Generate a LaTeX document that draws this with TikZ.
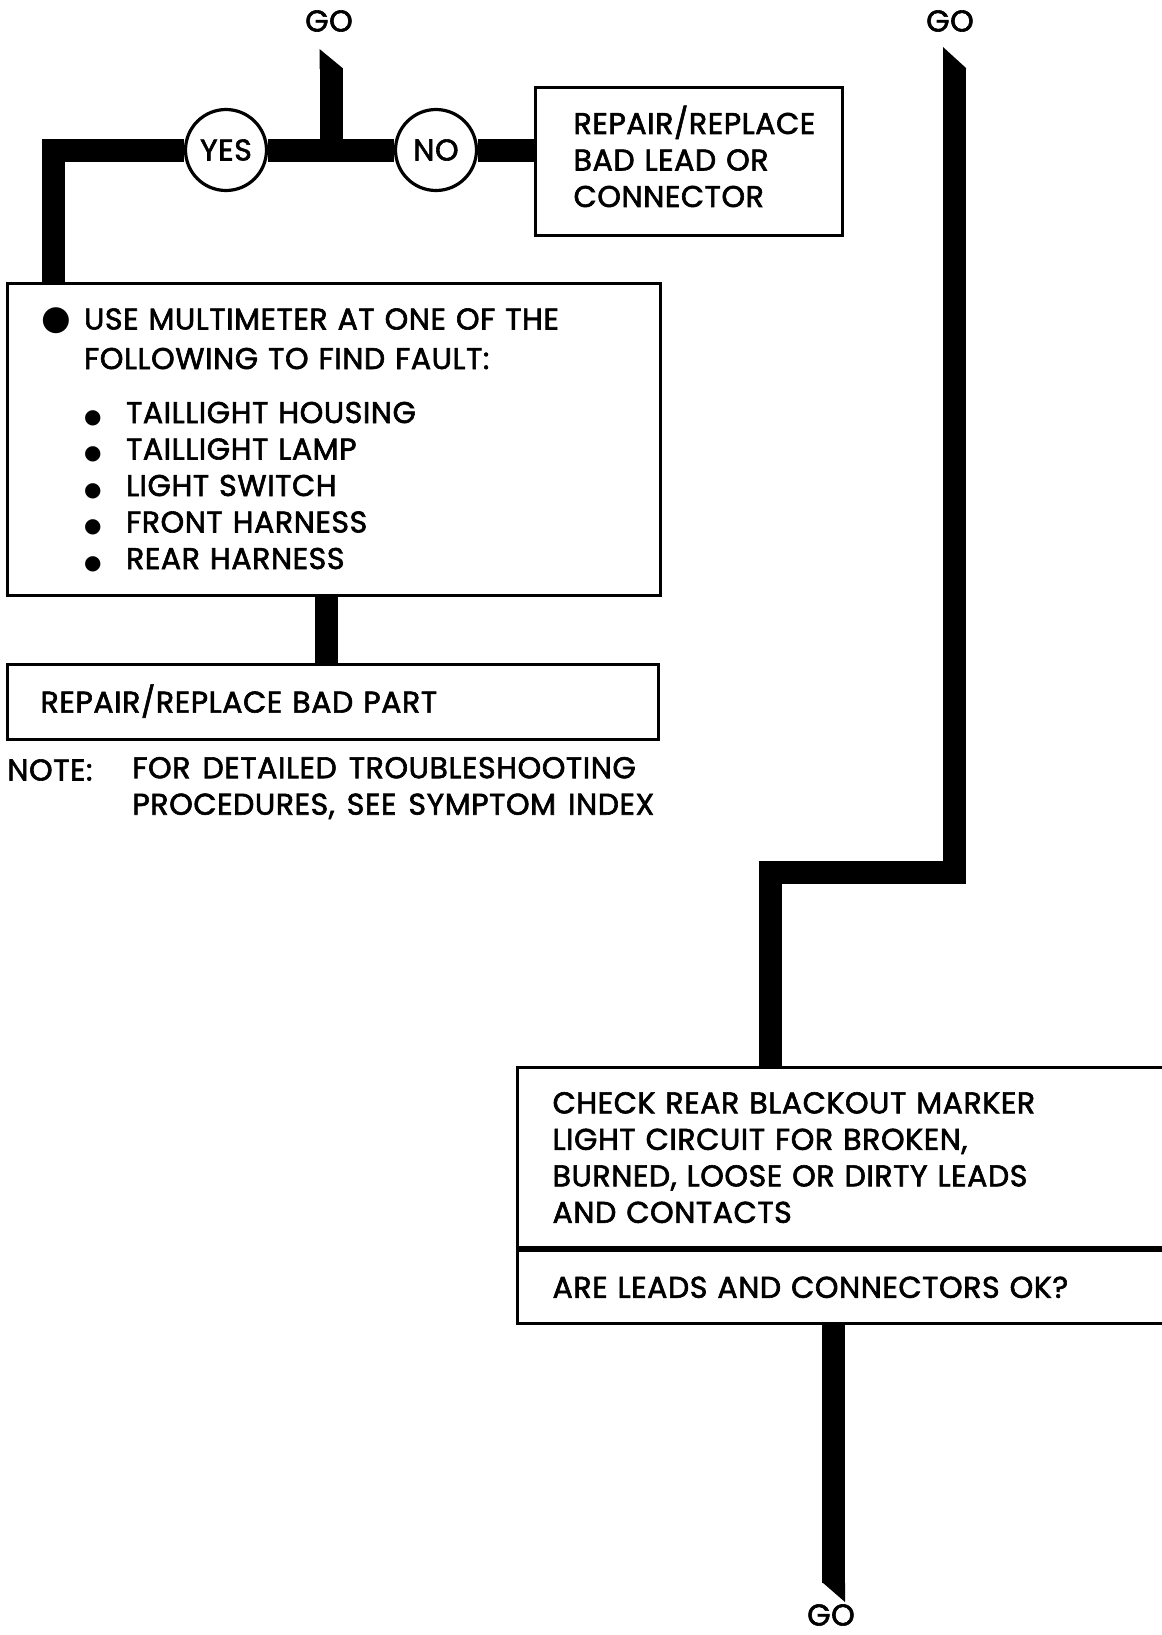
\documentclass[tikz,border=0pt]{standalone}
\usepackage{fontspec}
\setmainfont{Poppins}[FakeBold=2, WordSpace=1.4, LetterSpace=2]
\newfontfamily\dotfont{DejaVu Sans}
\usetikzlibrary{calc}
\pgfdeclarelayer{bg}
\pgfsetlayers{bg,main}

\newcommand\bigbul{{\dotfont\fontsize{17}{17}\selectfont ●}}
\newcommand\smallbul{{\dotfont\fontsize{10}{10}\selectfont ●}}

\begin{document}
\begin{tikzpicture}[x=0.5pt, y=-0.5pt, font=\fontsize{15}{18.25}\selectfont,
  box/.style={draw, line width=1.6pt, fill=white, anchor=north west, align=left, inner ysep=0pt},
  ring/.style={circle, draw, line width=1.6pt, fill=white, minimum size=40.5pt, inner sep=0pt},
  flow/.style={line width=11.5pt, line join=miter},
  plain/.style={inner sep=0pt}]
  \useasboundingbox (0,0) rectangle (1162,1635);
  \clip (0,0) rectangle (1162,1635);

  % left column
  \node[plain] (go1) at (329,21) {GO};
  \node[ring] (yes) at (226,150) {YES};
  \node[ring] (no) at (436,150) {NO};
  \node[box, inner xsep=19pt, text width=115.5pt, minimum height=74pt] (fix1) at (534,86)
    {REPAIR/REPLACE\\BAD LEAD OR\\CONNECTOR\\[-13pt]\mbox{}};
  \node[box, inner xsep=19pt, text width=288.5pt, minimum height=156pt] (mm) at (6,282)
    {\hspace*{-2pt}\makebox[21.25pt][l]{\bigbul}USE MULTIMETER AT ONE OF THE\\[1.5pt]
     \hspace*{19.25pt}FOLLOWING TO FIND FAULT:\\[8.75pt]
     \hspace*{19.25pt}\makebox[21pt][l]{\smallbul}TAILLIGHT HOUSING\\
     \hspace*{19.25pt}\makebox[21pt][l]{\smallbul}TAILLIGHT LAMP\\
     \hspace*{19.25pt}\makebox[21pt][l]{\smallbul}LIGHT SWITCH\\
     \hspace*{19.25pt}\makebox[21pt][l]{\smallbul}FRONT HARNESS\\
     \hspace*{19.25pt}\makebox[21pt][l]{\smallbul}REAR HARNESS};
  \node[box, inner xsep=16.5pt, text width=292.5pt, minimum height=37.5pt, text height=10.5pt, text depth=0pt] (part) at (6,663)
    {REPAIR/REPLACE BAD PART};
  \node[plain, anchor=west] (notelbl) at (7,770) {NOTE:};
  \node[plain, anchor=west, align=left] (note) at (132,788)
    {FOR DETAILED TROUBLESHOOTING\\PROCEDURES, SEE SYMPTOM INDEX};

  % right column
  \node[plain] (go2) at (950,21) {GO};
  \node[box, inner xsep=17.5pt, text width=294.5pt, minimum height=90pt] (check) at (516,1066)
    {CHECK REAR BLACKOUT MARKER\\LIGHT CIRCUIT FOR BROKEN,\\BURNED, LOOSE OR DIRTY LEADS\\AND CONTACTS};
  \node[box, inner xsep=17.5pt, text width=294.5pt, minimum height=36.5pt, text height=10.5pt, text depth=0pt] (ask) at (check.south west)
    {ARE LEADS AND CONNECTORS OK?};
  \node[plain] (go3) at (831,1615) {GO};

  \begin{pgfonlayer}{bg}
    \coordinate (t1) at (331,68);
    \coordinate (t2) at (954.5,68);
    \coordinate (k2) at (770.5,872);
    \coordinate (t3) at (833.5,1583);
    \draw[flow] (t1) -- (t1 |- yes);
    \fill ([xshift=-5.75pt]t1) ++(0,1) -- ++(0,-20) -- ([xshift=5.75pt]t1) -- ++(0,1) -- cycle;
    \draw[flow] ([xshift=23.75pt]mm.north west) |- (yes);
    \draw[flow] (yes) -- (no);
    \draw[flow] (no) -- (no -| fix1.west);
    \draw[flow] ([xshift=-4pt]mm.south) -- ([xshift=-4pt]mm.south |- part.north);
    \draw[flow] (t2) |- (k2) -- (k2 |- check.north);
    \fill ([xshift=-5.75pt]t2) ++(0,1) -- ++(0,-22) -- ([xshift=5.75pt]t2) -- ++(0,1) -- cycle;
    \draw[flow] (t3 |- ask.south) -- (t3);
    \fill ([xshift=-5.75pt]t3) ++(0,-1) -- ([xshift=5.75pt]t3) -- ++(0,19) -- cycle;
  \end{pgfonlayer}
\end{tikzpicture}
\end{document}
